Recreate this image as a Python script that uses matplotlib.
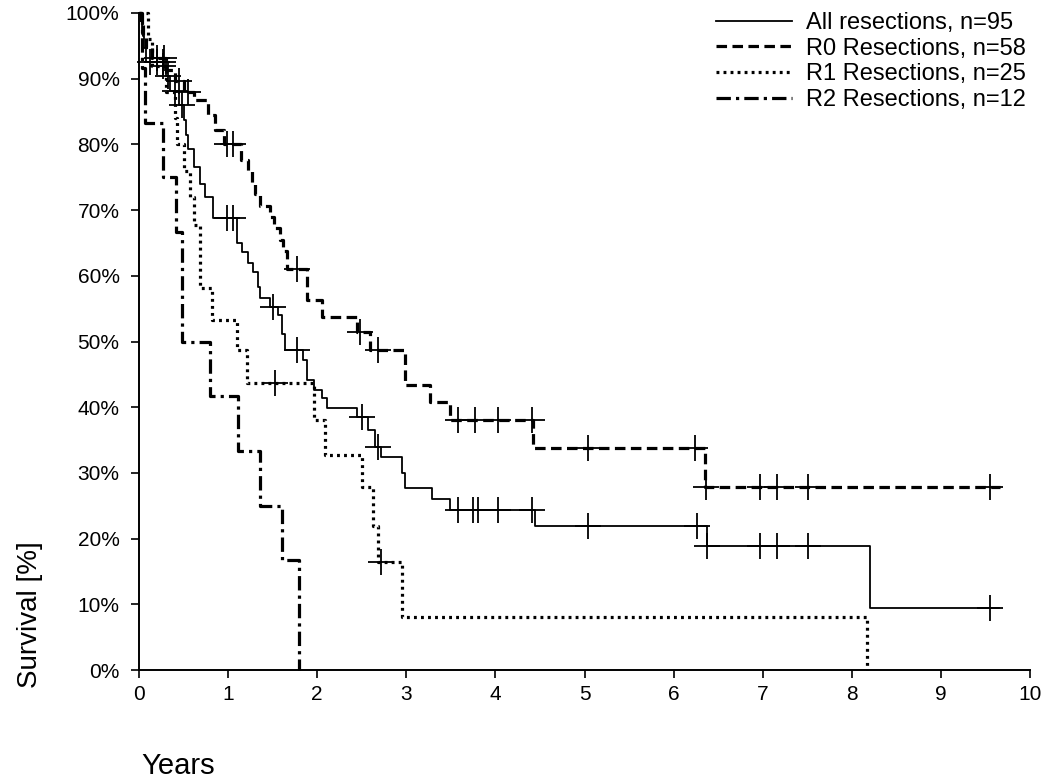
import numpy as np
import matplotlib
matplotlib.use("Agg")
import matplotlib.pyplot as plt

plt.rcParams['font.family'] = ['Liberation Sans', 'DejaVu Sans']

# All resections, n=95
all_t = [0, 0.03, 0.06, 0.08, 0.30, 0.35, 0.45, 0.50, 0.53, 0.55, 0.62, 0.68, 0.74, 0.83,
         1.10, 1.16, 1.22, 1.28, 1.34, 1.36, 1.47, 1.56, 1.60, 1.64, 1.84, 1.88, 1.96,
         2.05, 2.11, 2.45, 2.57, 2.65, 2.72, 2.95, 2.98, 3.29, 3.49, 4.44, 6.37, 8.20, 9.65]
all_s = [100, 96.8, 94.7, 92.6, 90.4, 88.2, 86.0, 83.7, 81.5, 79.3, 76.5, 74.0, 72.0, 68.8,
         65.0, 63.6, 62.0, 60.6, 58.3, 56.6, 55.3, 54.0, 51.2, 48.7, 47.2, 44.1, 42.6,
         41.4, 39.9, 38.5, 36.5, 34.0, 32.4, 30.0, 27.7, 26.0, 24.3, 21.9, 18.8, 9.4, 9.4]
all_cens = [0.12, 0.20, 0.27, 0.33, 0.40, 0.48, 0.99, 1.06, 1.50, 1.77, 2.50, 2.68,
            3.58, 3.75, 3.80, 4.03, 4.41, 5.04, 6.26, 6.38, 6.97, 7.16, 7.51, 9.55]

# R0 resections, n=58
r0_t = [0, 0.02, 0.05, 0.08, 0.15, 0.30, 0.40, 0.50, 0.62, 0.77, 0.85, 0.95, 1.15, 1.22,
        1.27, 1.30, 1.36, 1.47, 1.52, 1.58, 1.62, 1.66, 1.88, 2.05, 2.45, 2.59, 2.99,
        3.27, 3.49, 4.42, 6.35, 9.66]
r0_s = [100, 98.3, 96.6, 94.8, 93.1, 91.4, 89.6, 87.9, 86.8, 84.5, 82.2, 80.0, 77.6, 75.9,
        74.1, 72.4, 70.7, 69.0, 67.2, 65.5, 63.8, 61.0, 56.3, 53.7, 51.4, 48.7, 43.4,
        40.8, 38.0, 33.8, 27.9, 27.9]
r0_cens = [0.20, 0.28, 0.45, 0.55, 0.99, 1.06, 1.77, 2.48, 2.68, 3.58, 3.77, 4.03, 4.41,
           5.04, 6.24, 6.36, 6.97, 7.16, 7.51, 9.55]

# R1 resections, n=25
r1_t = [0, 0.10, 0.15, 0.30, 0.40, 0.43, 0.50, 0.57, 0.62, 0.68, 0.82, 1.10, 1.21, 1.96,
        2.09, 2.50, 2.63, 2.68, 2.95, 8.17]
r1_s = [100, 96, 92, 88, 84, 80, 76, 72, 67.7, 58.1, 53.3, 48.7, 43.7, 38.0,
        32.7, 27.9, 21.9, 16.4, 8.1, 0]
r1_cens = [0.27, 1.53, 2.72]

# R2 resections, n=12
r2_t = [0, 0.03, 0.07, 0.27, 0.42, 0.48, 0.80, 1.11, 1.36, 1.60, 1.79]
r2_s = [100, 91.7, 83.3, 75.0, 66.7, 50.0, 41.7, 33.3, 25.0, 16.7, 0]

labels = ['All resections, n=95', 'R0 Resections, n=58', 'R1 Resections, n=25', 'R2 Resections, n=12']


def surv_at(t, s, x):
    # value of the step curve at the censoring times
    idx = np.searchsorted(t, x, side='right') - 1
    return np.array(s)[idx]


fig = plt.figure(figsize=(10.5, 7.83), dpi=100)
ax = fig.add_axes([0.1324, 0.1443, 0.8486, 0.8391])

styles = [
    dict(color='black', lw=1.3, ls='-'),
    dict(color='black', lw=2.3, ls=(0, (3.3, 1.7))),
    dict(color='black', lw=2.3, ls=(0, (0.9, 1.3))),
    dict(color='black', lw=2.3, ls=(0, (4.5, 1.6, 1.0, 1.6))),
]
curves = [(all_t, all_s, all_cens), (r0_t, r0_s, r0_cens), (r1_t, r1_s, r1_cens), (r2_t, r2_s, [])]

handles = []
for (t, s, cens), st, lab in zip(curves, styles, labels):
    h, = ax.step(t, s, where='post', clip_on=False, label=lab, **st)
    handles.append(h)
    if cens:
        ax.plot(cens, surv_at(t, s, cens), ls='none', marker='+', ms=19, mew=1.3,
                color='black', clip_on=False)

ax.set_xlim(0, 10)
ax.set_ylim(0, 100)
ax.set_xticks(range(0, 11))
ax.set_yticks(range(0, 101, 10))
ax.set_yticklabels([f'{v}%' for v in range(0, 101, 10)])
ax.tick_params(axis='both', direction='out', length=6, width=1.2, labelsize=15)
ax.tick_params(axis='y', pad=8)
ax.tick_params(axis='x', pad=5)
for sp in ['top', 'right']:
    ax.spines[sp].set_visible(False)
for sp in ['left', 'bottom']:
    ax.spines[sp].set_linewidth(1.4)

ax.legend(handles=handles, loc='upper left', bbox_to_anchor=(0.624, 1.034),
          frameon=False, fontsize=17, handlelength=3.2, handletextpad=0.6,
          labelspacing=0.16, borderpad=0.4)

fig.text(0.029, 0.2146, 'Survival [%]', rotation=90, fontsize=20, ha='center', va='center')
fig.text(0.17, 0.0217, 'Years', fontsize=21, ha='center', va='center')

fig.savefig('out.png', dpi=100)
